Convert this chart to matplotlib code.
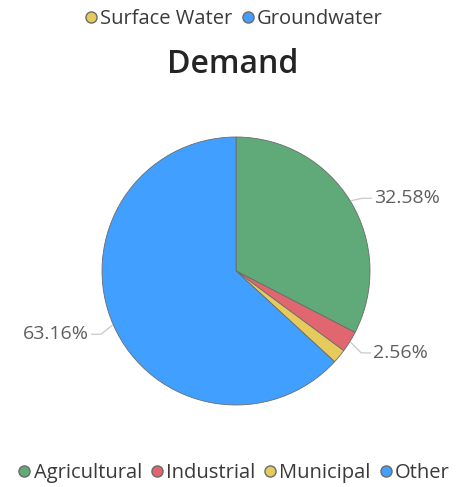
import numpy as np
import matplotlib
matplotlib.use("Agg")
from matplotlib import pyplot as plt
from matplotlib.lines import Line2D

plt.rcParams['font.family'] = ['Open Sans', 'DejaVu Sans']

categories = ['Agricultural', 'Industrial', 'Municipal', 'Other']
shares = [32.58, 2.56, 1.70, 63.16]
colors = ['#5FAA78', '#E0666F', '#E6CB5C', '#41A0FF']
shown = ['32.58%', '2.56%', None, '63.16%']

sources = ['Surface Water', 'Groundwater']
source_colors = ['#E6CB5C', '#41A0FF']

fig = plt.figure(figsize=(4.65, 4.87), dpi=100)
ax = fig.add_axes([0.2194, 0.1684, 0.5763, 0.5503])

wedges, _ = ax.pie(shares, colors=colors, startangle=90, counterclock=False,
                   radius=1, wedgeprops=dict(edgecolor='#6b6b6b', linewidth=0.6))
ax.set_xlim(-1, 1)
ax.set_ylim(-1, 1)

# data labels with leader lines
for w, lab in zip(wedges, shown):
    if lab is None:
        continue
    ang = np.deg2rad((w.theta1 + w.theta2) / 2)
    x0, y0 = np.cos(ang), np.sin(ang)
    x1, y1 = 1.1 * x0, 1.1 * y0 - 0.03
    side = 1 if x0 > 0 else -1
    x2 = x1 + side * 0.07
    ax.plot([x0 * 1.01, x1, x2], [y0 * 1.01, y1, y1], color='#c8c8c8', lw=0.9, clip_on=False)
    ax.text(x2 + side * 0.02, y1, lab, ha='left' if side > 0 else 'right', va='center',
            fontsize=14, color='#605E5C', clip_on=False)

fig.text(0.5, 0.868, 'Demand', ha='center', va='center', fontsize=23,
         fontweight='semibold', color='#252423')

def handles(cols):
    return [Line2D([], [], marker='o', ls='', markersize=8, markerfacecolor=c,
                   markeredgecolor='#6b6b6b', markeredgewidth=1) for c in cols]

fig.legend(handles(source_colors), sources, loc='center', bbox_to_anchor=(0.5, 0.96),
           ncol=2, frameon=False, fontsize=14.5, handletextpad=0.0, columnspacing=0.3,
           handlelength=0.9, labelcolor='#3b3a39')
fig.legend(handles(colors), categories, loc='center', bbox_to_anchor=(0.5, 0.029),
           ncol=4, frameon=False, fontsize=14.5, handletextpad=0.0, columnspacing=0.3,
           handlelength=0.9, labelcolor='#3b3a39')

fig.savefig('out.png', dpi=100)
